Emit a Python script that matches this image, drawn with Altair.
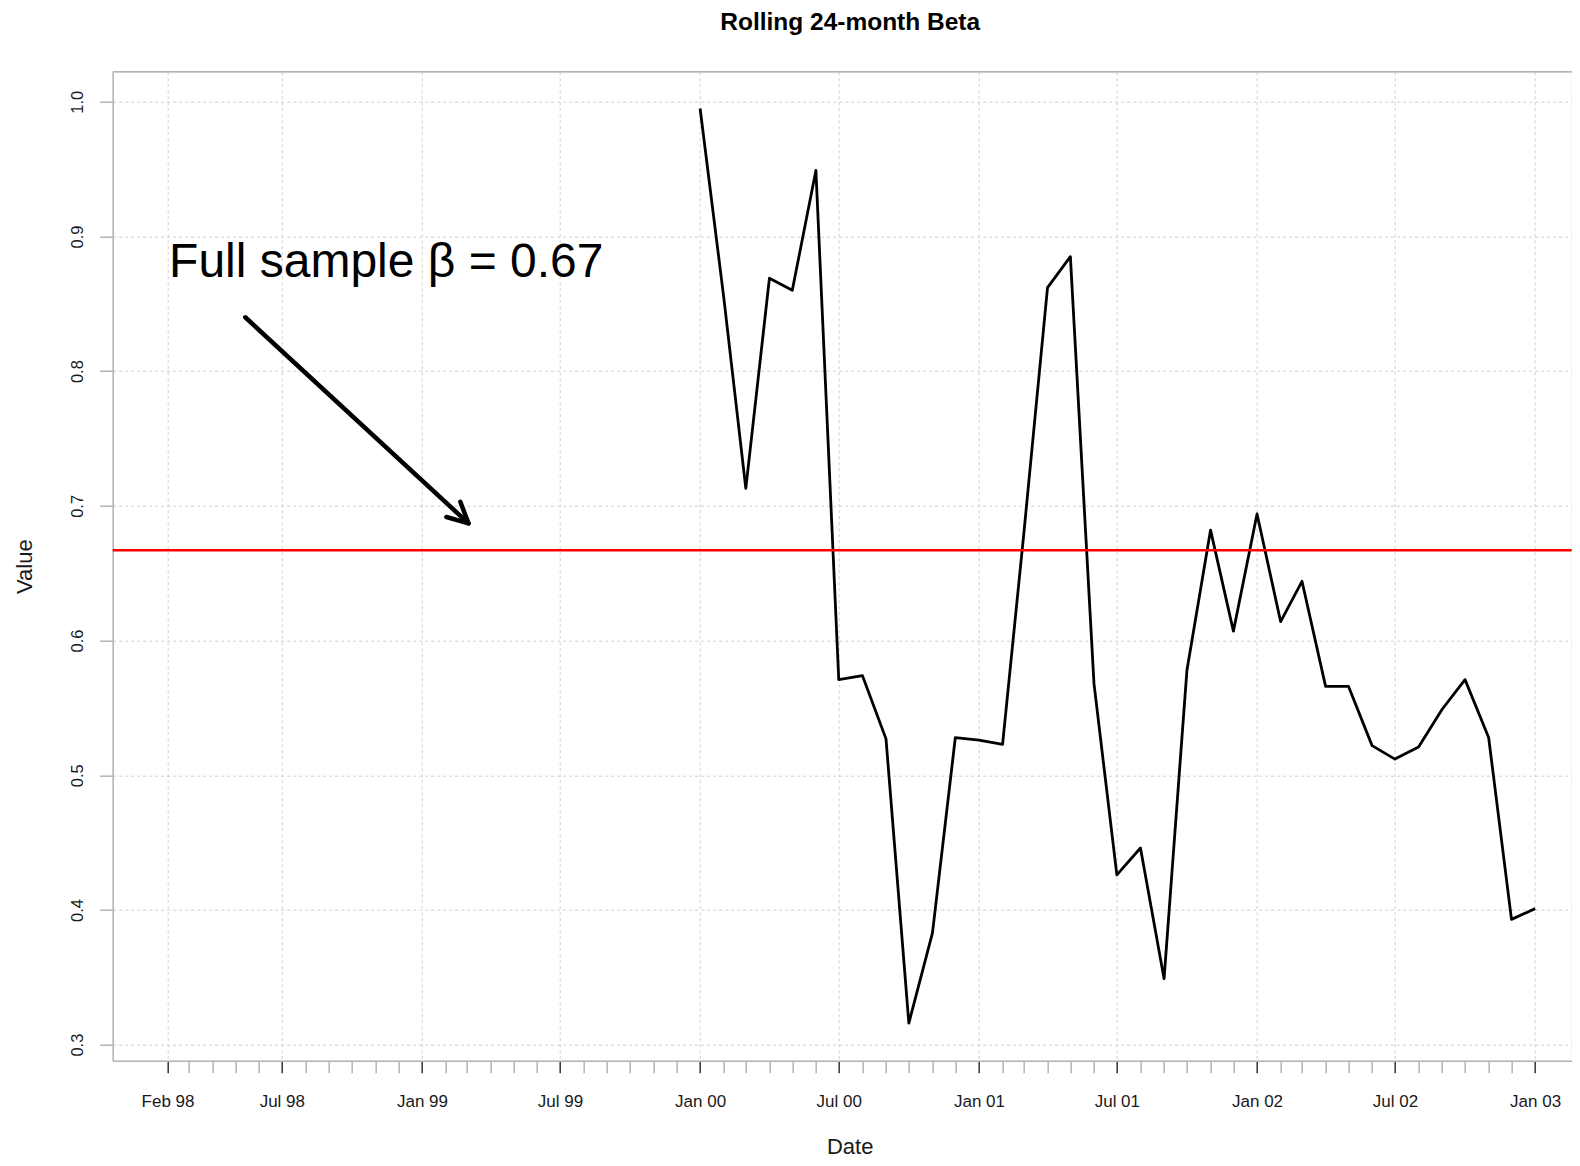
import altair as alt
import pandas as pd

# rolling 24-month beta, monthly from Jan 2000 (first 23 months of the window are empty)
MONTHS = pd.date_range("2000-01-01", "2003-01-01", freq="MS")
BETA = [
    0.995, 0.855, 0.713, 0.869, 0.860, 0.949, 0.571, 0.574, 0.527, 0.316, 0.383, 0.528,
    0.526, 0.523, 0.680, 0.862, 0.885, 0.568, 0.426, 0.446, 0.349, 0.578, 0.682, 0.607,
    0.694, 0.614, 0.644, 0.566, 0.566, 0.522, 0.512, 0.521, 0.549, 0.571, 0.528, 0.393,
    0.401,
]
FULL_BETA = 0.667

# axis ticks: one per month, labels only on the major ones
TICK_MONTHS = pd.date_range("1998-02-01", "2003-01-01", freq="MS")
Y_TICKS = [0.3, 0.4, 0.5, 0.6, 0.7, 0.8, 0.9, 1.0]
X_DOMAIN = ["1997-11-21", "2003-02-18"]
Y_DOMAIN = [0.2881, 1.0223]

# annotation
NOTE_TEXT = "Full sample \u03b2 = 0.67"
NOTE_DATE = "1998-02-03"
NOTE_VALUE = 0.870
ARROW_DATES = ["1998-05-14", "1999-03-03"]
ARROW_VALUES = [0.840, 0.687]

FONT = "Liberation Sans"
INK = "#1a1a1a"
FRAME = "#b4b4b4"
GRID = "#cfcfcf"
W, H = 1459, 989

MAJOR = "month(datum.value) % 6 == 0 || (year(datum.value) == 1998 && month(datum.value) == 1)"


def _dt(s: str) -> alt.DateTime:
    t = pd.Timestamp(s)
    return alt.DateTime(year=t.year, month=t.month, date=t.day)


beta_df = pd.DataFrame({"date": MONTHS, "value": BETA})
note_df = pd.DataFrame({"date": [pd.Timestamp(NOTE_DATE)], "value": [NOTE_VALUE], "label": [NOTE_TEXT]})
arrow_df = pd.DataFrame({"date": pd.to_datetime(ARROW_DATES), "value": ARROW_VALUES})
head_df = arrow_df.iloc[[-1]]

x_axis = alt.Axis(
    values=[_dt(str(d)) for d in TICK_MONTHS],
    tickCount=len(TICK_MONTHS) + 5,
    labelExpr=f"({MAJOR}) ? timeFormat(datum.value, '%b %y') : ''",
    labelOverlap=False,
    labelFlush=False,
    labelFont=FONT,
    labelFontSize=17,
    labelColor=INK,
    labelAlign="center",
    labelBaseline="alphabetic",
    labelPadding=34,
    tickSize=12,
    tickWidth=1.5,
    tickColor={"condition": {"test": MAJOR, "value": "#333333"}, "value": FRAME},
    grid=True,
    gridColor=GRID,
    gridDash=[3, 3],
    gridWidth=1,
    gridOpacity={"condition": {"test": MAJOR, "value": 1}, "value": 0},
    domainColor=FRAME,
    domainWidth=1.5,
    title="Date",
    titleFont=FONT,
    titleFontSize=22,
    titleFontWeight="normal",
    titleColor=INK,
    titleX=737,
    titleY=93,
    titleAlign="center",
    titleBaseline="alphabetic",
)

y_axis = alt.Axis(
    values=Y_TICKS,
    format=".1f",
    labelFont=FONT,
    labelFontSize=16.5,
    labelColor=INK,
    labelAngle=270,
    labelAlign="center",
    labelBaseline="alphabetic",
    labelPadding=17,
    tickSize=13,
    tickWidth=1.5,
    tickColor=FRAME,
    grid=True,
    gridColor=GRID,
    gridDash=[3, 3],
    gridWidth=1,
    domainColor=FRAME,
    domainWidth=1.5,
    title="Value",
    titleFont=FONT,
    titleFontSize=22,
    titleFontWeight="normal",
    titleColor=INK,
    titleAngle=270,
    titleX=-81,
    titleY=H / 2,
    titleAlign="center",
    titleBaseline="alphabetic",
)

x_enc = alt.X("date:T", scale=alt.Scale(domain=[_dt(d) for d in X_DOMAIN]), axis=x_axis)
y_enc = alt.Y("value:Q", scale=alt.Scale(domain=Y_DOMAIN, nice=False, zero=False), axis=y_axis)

line = (
    alt.Chart(beta_df)
    .mark_line(color="black", strokeWidth=2.8, strokeJoin="round")
    .encode(x=x_enc, y=y_enc)
)

full = (
    alt.Chart(pd.DataFrame({"value": [FULL_BETA]}))
    .mark_rule(color="#ff0000", strokeWidth=2.5)
    .encode(y="value:Q")
)

note = (
    alt.Chart(note_df)
    .mark_text(align="left", baseline="alphabetic", font=FONT, fontSize=48, color="black")
    .encode(x="date:T", y="value:Q", text="label:N")
)

shaft = (
    alt.Chart(arrow_df)
    .mark_line(color="black", strokeWidth=4.5, strokeCap="round")
    .encode(x="date:T", y="value:Q")
)

head = (
    alt.Chart(head_df)
    .mark_point(
        shape="M-1,-0.5L0,0L-1,0.5",
        size=1690,
        angle=42.7,
        filled=False,
        stroke="black",
        strokeWidth=4.5,
        strokeCap="round",
        strokeJoin="round",
        opacity=1,
    )
    .encode(x="date:T", y="value:Q")
)

top_border = (
    alt.Chart(pd.DataFrame({"value": [0]}))
    .mark_rule(color=FRAME, strokeWidth=1.5)
    .encode(x=alt.value(0), x2=alt.value(W), y=alt.value(0))
)

chart = (
    alt.layer(line, full, note, shaft, head, top_border)
    .properties(
        width=W,
        height=H,
        padding={"left": 104.7, "top": 63.7, "right": 0, "bottom": 97},
        autosize=alt.AutoSizeParams(type="none"),
        title=alt.TitleParams(
            "Rolling 24-month Beta",
            font=FONT,
            fontSize=24.5,
            fontWeight="bold",
            color="black",
            anchor="middle",
            frame="group",
            dx=8,
            offset=35,
        ),
    )
    .configure_view(stroke=None)
    .configure(background="white")
)

chart.save("out.html", embed_options={"renderer": "svg", "actions": False})
